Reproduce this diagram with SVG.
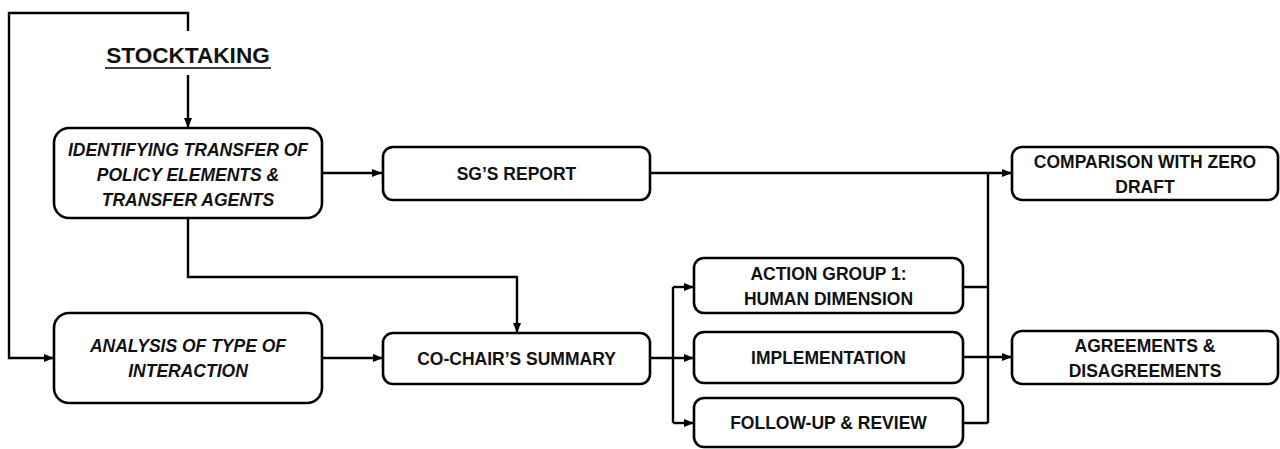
<svg xmlns="http://www.w3.org/2000/svg" width="1280" height="449" viewBox="0 0 1280 449">
<style>
.box{fill:#fff;stroke:#000;stroke-width:2.6}
.t{font-family:"Liberation Sans",Arial,sans-serif;font-weight:bold;font-size:17.5px;fill:#111;text-anchor:middle}
.it{font-style:italic}
.c{fill:none;stroke:#000;stroke-width:2.4}
</style>
<defs>
<marker id="ah" markerUnits="userSpaceOnUse" markerWidth="10" markerHeight="10" viewBox="0 0 10 10" refX="10" refY="5" orient="auto">
<path d="M0,1 L10,5 L0,9 Z" fill="#000"/>
</marker>
</defs>
<rect width="1280" height="449" fill="#fff"/>
<g id="connectors">
<path class="c" d="M188,31 V13 H9 V358 H54" marker-end="url(#ah)"/>
<path class="c" d="M188,75 V128" marker-end="url(#ah)"/>
<path class="c" d="M322,173 H382" marker-end="url(#ah)"/>
<path class="c" d="M188,218 V277 H517 V333" marker-end="url(#ah)"/>
<path class="c" d="M322,358 H383" marker-end="url(#ah)"/>
<path class="c" d="M650,173 H1012" marker-end="url(#ah)"/>
<path class="c" d="M650,358 H694" marker-end="url(#ah)"/>
<path class="c" d="M673,287 V423"/>
<path class="c" d="M673,287 H694" marker-end="url(#ah)"/>
<path class="c" d="M673,423 H694" marker-end="url(#ah)"/>
<path class="c" d="M963,287 H988 M963,423 H988 M988,173 V423"/>
<path class="c" d="M963,357 H1012" marker-end="url(#ah)"/>
</g>
<g id="stocktaking">
<text x="188" y="63" class="t" style="font-size:22.6px">STOCKTAKING</text>
<line x1="105" y1="68" x2="271" y2="68" stroke="#000" stroke-width="1.6"/>
</g>
<g id="identifying">
<rect class="box" x="54" y="128" width="268" height="90" rx="15"/>
<text class="t it" x="188" y="156">IDENTIFYING TRANSFER OF</text>
<text class="t it" x="188" y="181">POLICY ELEMENTS &amp;</text>
<text class="t it" x="188" y="206">TRANSFER AGENTS</text>
</g>
<g id="analysis">
<rect class="box" x="54" y="313" width="268" height="90" rx="15"/>
<text class="t it" x="188" y="352">ANALYSIS OF TYPE OF</text>
<text class="t it" x="188" y="377">INTERACTION</text>
</g>
<g id="sgreport">
<rect class="box" x="383" y="147" width="267" height="53" rx="10"/>
<text class="t" x="516.5" y="180">SG’S REPORT</text>
</g>
<g id="cochair">
<rect class="box" x="383" y="333" width="267" height="51" rx="10"/>
<text class="t" x="516.5" y="365">CO-CHAIR’S SUMMARY</text>
</g>
<g id="actiongroup">
<rect class="box" x="694" y="258" width="269" height="55" rx="10"/>
<text class="t" x="828.5" y="280">ACTION GROUP 1:</text>
<text class="t" x="828.5" y="305">HUMAN DIMENSION</text>
</g>
<g id="implementation">
<rect class="box" x="694" y="332" width="269" height="51" rx="10"/>
<text class="t" x="828.5" y="364">IMPLEMENTATION</text>
</g>
<g id="followup">
<rect class="box" x="694" y="398" width="269" height="49" rx="10"/>
<text class="t" x="828.5" y="429">FOLLOW-UP &amp; REVIEW</text>
</g>
<g id="comparison">
<rect class="box" x="1012" y="147" width="266" height="53" rx="10"/>
<text class="t" x="1145" y="168">COMPARISON WITH ZERO</text>
<text class="t" x="1145" y="193">DRAFT</text>
</g>
<g id="agreements">
<rect class="box" x="1012" y="331" width="266" height="53" rx="10"/>
<text class="t" x="1145" y="352">AGREEMENTS &amp;</text>
<text class="t" x="1145" y="377">DISAGREEMENTS</text>
</g>
</svg>
